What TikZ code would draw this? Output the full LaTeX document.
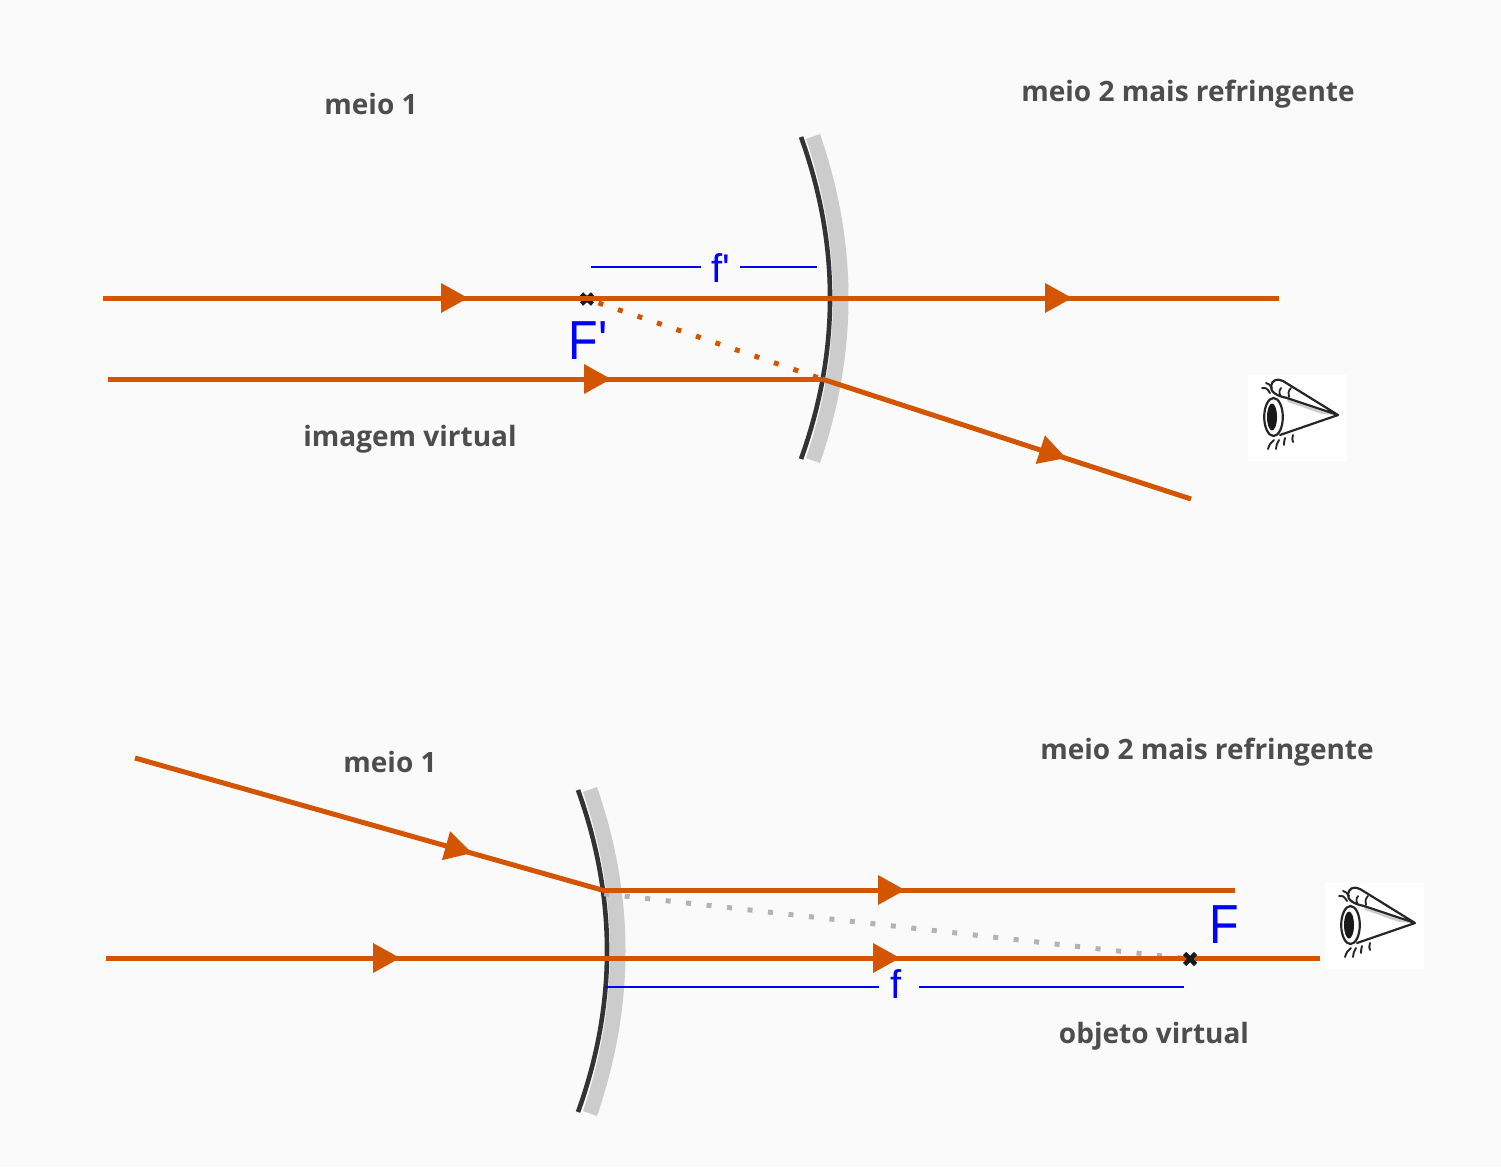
\documentclass[tikz,border=0pt]{standalone}
\usepackage{fontspec}
\setmainfont{Open Sans}
\newfontfamily\arialf{Liberation Sans}
\newfontfamily\arialn[FakeStretch=0.88]{Liberation Sans}
\usetikzlibrary{arrows.meta}
\definecolor{bgc}{HTML}{FAFAFA}
\definecolor{rayc}{HTML}{D45500}
\definecolor{lensc}{HTML}{CCCCCC}
\definecolor{dotc}{HTML}{B3B3B3}
\definecolor{darkc}{HTML}{333333}
\definecolor{txtc}{HTML}{4D4D4D}
\tikzset{
  ray/.style={draw=rayc,line width=5pt},
  rayhead/.style={draw=none,fill=rayc},
  dotray/.style={line width=5pt,dash pattern=on 5pt off 15.6pt},
  focal/.style={blue,line width=2pt},
  lab/.style={text=txtc,font=\fontsize{28}{30}\selectfont\bfseries,inner sep=0pt,anchor=base},
  bluesmall/.style={text=blue,font=\arialf\fontsize{40}{44}\selectfont,inner sep=0pt},
  bluebig/.style={text=blue,font=\arialn\fontsize{55}{58}\selectfont,inner sep=0pt},
  crossm/.style={line width=4.6pt,black!90},
  eyeline/.style={black!85,line width=2.2pt,line cap=round,line join=round},
  pics/lens/.style={code={
    \fill[lensc] (806,139) -- (820,134) .. controls (858,244) and (858,352) .. (820,463)
       -- (806,458) .. controls (842,352) and (842,244) .. (806,139) -- cycle;
    \draw[darkc,line width=4.6pt] (801,137) .. controls (839.7,244) and (839.7,352) .. (801,459);
  }},
  pics/headshape/.style={code={
    \fill[rayhead] (-27,-15) -- (0,0) -- (-27,15) -- cycle;
  }},
  pics/eye/.style={code={
    \fill[white] (1248,375) rectangle (1347,461);
    \fill[black!20] (1285,396) -- (1338,415) -- (1322,414) -- (1288,402) -- cycle;
    \draw[eyeline] (1338,415) -- (1283,381) .. controls (1277,378) and (1272,380) .. (1271,386)
       .. controls (1270,392) and (1277,396) .. (1287,398) -- (1338,415)
       (1338,415) -- (1280,435);
    \draw[eyeline,line width=1.8pt] (1281,388) .. controls (1279,391) and (1279,393) .. (1280,395)
      (1291,388) .. controls (1288,391) and (1288,394) .. (1289,397);
    \draw[eyeline,fill=white] (1273.5,417) ellipse [x radius=9.3,y radius=19];
    \fill[black!90] (1272,417) ellipse [x radius=5,y radius=13.5];
    \draw[eyeline,line width=1.9pt] (1270,393) .. controls (1267,388) and (1265,387) .. (1262,388)
       (1272,388) .. controls (1270,385) and (1268,383) .. (1266,383)
       (1274,440) .. controls (1271,442) and (1269,445) .. (1268,449)
       (1279,440) .. controls (1277,443) and (1276,446) .. (1276,449)
       (1285,438) .. controls (1284,441) and (1284,443) .. (1284,445)
       (1293,435) .. controls (1292,438) and (1292,440) .. (1293,442);
  }}
}
\begin{document}
\begin{tikzpicture}[x=1pt,y=-1pt]
\useasboundingbox (0,0) rectangle (1501,1167);
\fill[bgc] (0,0) rectangle (1501,1167);

% upper figure
\pic (lensA) at (0,0) {lens};
\pic (eyeA) at (0,0) {eye};
\coordinate (a1) at (103,298);
\coordinate (a1t) at (468,298);
\coordinate (a1u) at (1072,298);
\coordinate (a1e) at (1279,298);
\coordinate (a2) at (108,379);
\coordinate (a2t) at (611,379);
\coordinate (a2h) at (822,379);
\coordinate (a3t) at (1066,458);
\coordinate (a3e) at (1191,499);
\coordinate (fa) at (587,299);
\coordinate (fl1) at (591,267);
\coordinate (fl2) at (701,267);
\coordinate (fl3) at (740,267);
\coordinate (fl4) at (817,267);
\draw[crossm] (581.5,294) -- (592.5,304) (592.5,294) -- (581.5,304);
\draw[rayc,dotray,dash phase=8.5pt] (fa) -- (a2h);
\draw[ray] (a1) -- (a1e);
\pic at (a1t) {headshape};
\pic at (a1u) {headshape};
\draw[ray] (a2) -- (a2h);
\pic at (a2t) {headshape};
\draw[ray] (a2h) -- (a3e);
\pic[rotate=-18] at (a3t) {headshape};
\draw[focal] (fl1) -- (fl2);
\draw[focal] (fl3) -- (fl4);
\node[bluesmall] (fp) at (721,268) {f'};
\node[bluebig] (Fp) at (588,341) {F'};
\node[lab] (m1a) at (371,114) {meio 1};
\node[lab] (m2a) at (1188,101) {meio 2 mais refringente};
\node[lab] (iv) at (410,446) {imagem virtual};

% lower figure
\begin{scope}[shift={(-223,653)}]
\pic (lensB) at (0,0) {lens};
\end{scope}
\begin{scope}[shift={(77,508)}]
\pic (eyeB) at (0,0) {eye};
\end{scope}
\coordinate (b1) at (135,758);
\coordinate (b1t) at (472,853);
\coordinate (b1h) at (602,890);
\coordinate (b2t) at (905,890);
\coordinate (b2e) at (1235,890);
\coordinate (b3) at (106,958);
\coordinate (b3t) at (400,958);
\coordinate (b3u) at (900,958);
\coordinate (b3e) at (1320,958);
\coordinate (gs) at (604.2,893.8);
\coordinate (fb) at (1190,959);
\coordinate (gl1) at (605,987);
\coordinate (gl2) at (879,987);
\coordinate (gl3) at (919,987);
\coordinate (gl4) at (1184,987);
\draw[dotc,dotray] (gs) -- (fb);
\draw[ray] (b1) -- (b1h);
\pic[rotate=-15.7] at (b1t) {headshape};
\draw[ray] (b1h) -- (b2e);
\pic at (b2t) {headshape};
\draw[ray] (b3) -- (b3e);
\pic at (b3t) {headshape};
\pic at (b3u) {headshape};
\draw[crossm] (1184.5,953.5) -- (1195.5,964.5) (1195.5,953.5) -- (1184.5,964.5);
\draw[focal] (gl1) -- (gl2);
\draw[focal] (gl3) -- (gl4);
\node[bluesmall] (fs) at (896,984) {f};
\node[bluebig] (Fs) at (1224,925) {F};
\node[lab] (m1b) at (390,772) {meio 1};
\node[lab] (m2b) at (1207,759) {meio 2 mais refringente};
\node[lab] (ov) at (1154,1043) {objeto virtual};
\end{tikzpicture}
\end{document}
